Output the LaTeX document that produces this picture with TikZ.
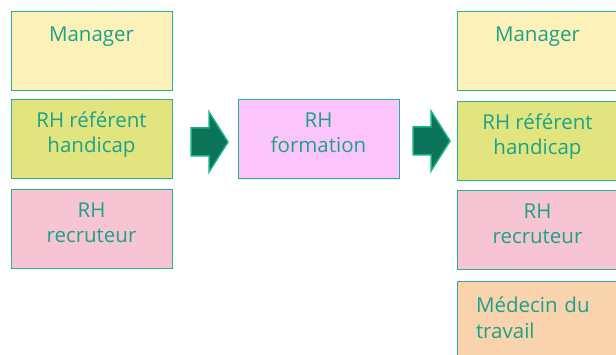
\documentclass[tikz,border=0pt]{standalone}
\usepackage{fontspec}
\setmainfont{Open Sans}
\usepackage{tikz}
\usetikzlibrary{positioning}
\definecolor{textc}{RGB}{27,163,135}
\definecolor{edgec}{RGB}{38,178,142}
\definecolor{arrowc}{RGB}{11,115,88}
\definecolor{arrowedge}{RGB}{24,178,136}
\definecolor{mgrcol}{RGB}{253,241,186}
\definecolor{refcol}{RGB}{226,228,128}
\definecolor{reccol}{RGB}{246,196,210}
\definecolor{formcol}{RGB}{251,196,251}
\definecolor{medcol}{RGB}{249,210,174}
\newcommand{\bigarrow}[1]{%
  \begin{scope}[shift={#1}]
    \draw[flow arrow] (0,-14) -- (18,-14) -- (18,-30) -- (37,0)
      -- (18,30) -- (18,14) -- (0,14) -- cycle;
  \end{scope}}

\begin{document}
\begin{tikzpicture}[x=1pt,y=-1pt,
		role/.style={rectangle,draw=edgec,line width=1pt,minimum width=161pt,
			minimum height=79pt,inner sep=0pt,outer sep=0pt,align=center,text=textc,
			font=\fontsize{20.5}{25}\selectfont},
		top role/.style={role,inner ysep=14pt,text height=16pt,text depth=35pt},
		two role/.style={role,text height=53pt,text depth=26pt},
		flow arrow/.style={fill=arrowc,draw=arrowedge,line width=1.5pt,line join=miter}]
		
		\clip (0,0) rectangle (616,355);
		\useasboundingbox (0,0) rectangle (616,355);
		
		% avant
		\node[top role,fill=mgrcol,anchor=north west] (mgrA) at (11,12) {Manager};
		\node[two role,fill=refcol] (refA) [below=9pt of mgrA] {RH référent\\handicap};
		\node[two role,fill=reccol] (recA) [below=11pt of refA] {RH\\recruteur};
		
		% formation
		\node[two role,fill=formcol,anchor=north west] (form) at (238,100) {RH\\formation};
		
		% apres
		\node[top role,fill=mgrcol,anchor=north west] (mgrB) at (457,12) {Manager};
		\node[two role,fill=refcol] (refB) [below=11pt of mgrB] {RH référent\\handicap};
		\node[two role,fill=reccol] (recB) [below=10pt of refB] {RH\\recruteur};
		\node[role,fill=medcol,align=left,text width=123pt,inner xsep=19pt,
			inner ysep=12pt,text height=19pt,text depth=36pt] (medB)
			[below=12pt of recB] {Médecin du\\travail};
		
		\bigarrow{(191,142)}
		\bigarrow{(413,141)}
	\end{tikzpicture}
\end{document}
